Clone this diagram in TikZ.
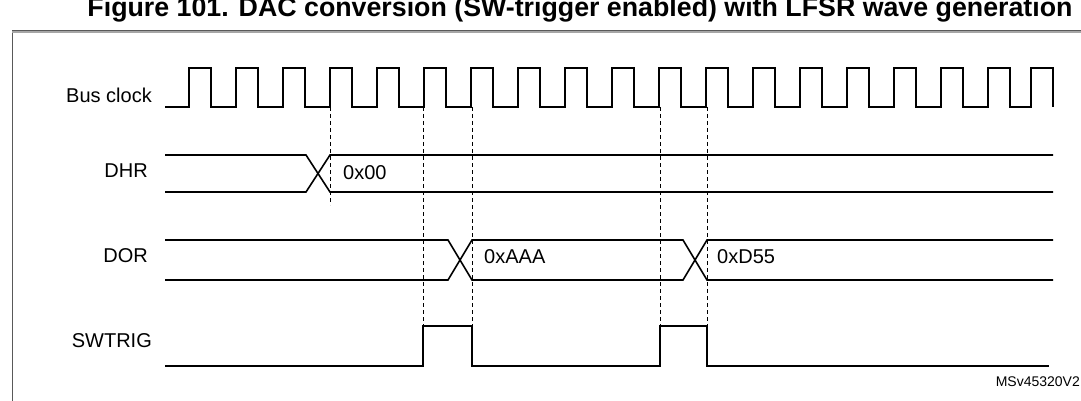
\documentclass[tikz,border=0pt]{standalone}
\usepackage{fontspec}
\setmainfont{Liberation Sans}
\begin{document}
\begin{tikzpicture}[x=1pt,y=-1pt,
  sig/.style={line width=1.6pt,line join=miter},
  dsh/.style={dashed,line width=0.6pt,dash pattern=on 4pt off 3pt},
  lbl/.style={font=\fontsize{20}{24}\selectfont,inner sep=0pt},
  val/.style={font=\fontsize{20}{24}\selectfont,inner sep=0pt,anchor=west}]
\useasboundingbox (0,0) rectangle (1081,401);
\begin{scope}
\clip (0,0) rectangle (1081,401);
\node[font=\bfseries\fontsize{22}{24}\selectfont,inner sep=0pt,anchor=base] (title) at (580,17)
  {\resizebox{985pt}{!}{Figure 101. DAC conversion (SW-trigger enabled) with LFSR wave generation}};
\draw[line width=1pt,gray!70!black] (12,420) -- (12,31) -- (1095,31);
\draw[line width=2pt,gray!70] (12,32) -- (1095,32);
% clock
\draw[sig] (165,107)
  \foreach \k in {0,...,17} { -- ({189+47*\k},107) -- ({189+47*\k},68) -- ({211+47*\k},68) -- ({211+47*\k},107) }
  -- (1031,107) -- (1031,68) -- (1053,68) -- (1053,107);
\node[lbl,anchor=east] (bus) at (152,95) {Bus clock};
% DHR
\node[lbl,anchor=east] (dhr) at (148,171) {DHR};
\draw[sig] (165,155) -- (306,155) -- (330,192) -- (1053,192);
\draw[sig] (165,192) -- (306,192) -- (330,155) -- (1053,155);
\node[val] (v0) at (343,173) {0x00};
% DOR
\node[lbl,anchor=east] (dor) at (148,256) {DOR};
\draw[sig] (165,240) -- (448,240) -- (472,280) -- (683,280) -- (707,240) -- (1053,240);
\draw[sig] (165,280) -- (448,280) -- (472,240) -- (683,240) -- (707,280) -- (1053,280);
\node[val] (v1) at (484,257) {0xAAA};
\node[val] (v2) at (717,257) {0xD55};
% SWTRIG
\node[lbl,anchor=east] (sw) at (152,341) {SWTRIG};
\draw[sig] (165,366) -- (423,366) -- (423,326) -- (472,326) -- (472,366) -- (660,366) -- (660,326) -- (707,326) -- (707,366) -- (1049,366);
% dashed guides
\draw[dsh] (330,107) -- (330,205);
\draw[dsh] (423,107) -- (423,326);
\draw[dsh] (472,107) -- (472,326);
\draw[dsh] (660,107) -- (660,326);
\draw[dsh] (707,107) -- (707,326);
\node[font=\fontsize{14}{16}\selectfont,inner sep=0pt,anchor=east] (ms) at (1080,382) {MSv45320V2};
\end{scope}
\end{tikzpicture}
\end{document}
